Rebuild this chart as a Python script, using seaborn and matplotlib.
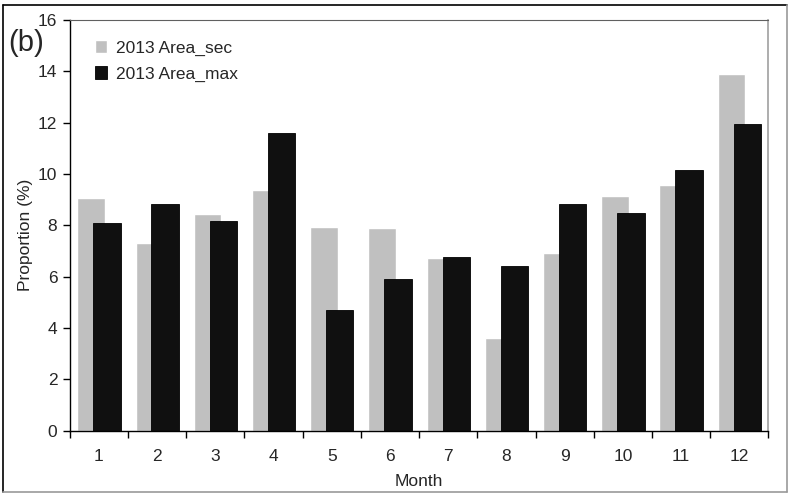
import numpy as np
import seaborn as sns
import matplotlib.pyplot as plt
from matplotlib.lines import Line2D

months = np.arange(1, 13)
area_sec = [9.05, 7.31, 8.46, 9.38, 7.93, 7.88, 6.74, 3.61, 6.94, 9.14, 9.56, 13.9]
area_max = [8.09, 8.83, 8.19, 11.6, 4.72, 5.91, 6.75, 6.40, 8.82, 8.49, 10.14, 11.94]
y_ticks = [0, 2, 4, 6, 8, 10, 12, 14, 16]

sns.set_style('ticks')
plt.rcParams['font.family'] = ['Liberation Sans', 'DejaVu Sans']
fs = 12.5

fig = plt.figure(figsize=(7.89, 4.93), dpi=100)
ax = fig.add_axes([0.0885, 0.1262, 0.8855, 0.8332])

# overlapping bars like the excel original
sns.barplot(x=months - 0.137, y=area_sec, native_scale=True, width=0.47,
            color='#c0c0c0', saturation=1, errorbar=None,
            label='2013 Area_sec', ax=ax)
sns.barplot(x=months + 0.137, y=area_max, native_scale=True, width=0.47,
            color='#101010', saturation=1, errorbar=None, edgecolor='#000000',
            linewidth=0.6, label='2013 Area_max', ax=ax)

ax.set_xlim(0.5, 12.5)
ax.set_ylim(0, 16)
ax.set_yticks(y_ticks)
ax.set_xticks(months)
ax.set_xticklabels([str(m) for m in months])
ax.set_xticks(np.arange(0.5, 13, 1), minor=True)
ax.tick_params(axis='x', which='major', length=0, pad=13, labelsize=fs)
ax.tick_params(axis='x', which='minor', length=5, width=1, color='black', direction='out')
ax.tick_params(axis='y', length=5, width=1, color='black', direction='out', pad=4, labelsize=fs)

ax.set_xlabel('Month', size=fs, labelpad=7)
ax.set_ylabel('Proportion (%)', size=fs)
ax.yaxis.set_label_coords(-0.053, 0.478)

for s in ['left', 'bottom']:
    ax.spines[s].set_color('black')
    ax.spines[s].set_linewidth(1)
ax.spines['top'].set_color('#606060')
ax.spines['top'].set_linewidth(0.8)
ax.spines['right'].set_color('#a0a0a0')
ax.spines['right'].set_linewidth(1.2)

ax.legend(loc='upper left', bbox_to_anchor=(0.120, 0.918), bbox_transform=fig.transFigure,
          frameon=False, fontsize=fs, handlelength=0.7, handleheight=0.7,
          handletextpad=0.5, labelspacing=0.62, borderpad=0, borderaxespad=0)

fig.text(0.010, 1 - 42.5 / 493, '(b)', va='center', ha='left', fontsize=21)

# outer frame of the figure
fig.add_artist(Line2D([0.004, 0.004], [0.003, 0.99], color='black', lw=1.2, transform=fig.transFigure))
fig.add_artist(Line2D([0.004, 0.997], [0.99, 0.99], color='black', lw=1.2, transform=fig.transFigure))
fig.add_artist(Line2D([0.997, 0.997], [0.003, 0.99], color='#999999', lw=1.2, transform=fig.transFigure))
fig.add_artist(Line2D([0.004, 0.997], [0.003, 0.003], color='#999999', lw=1.2, transform=fig.transFigure))

fig.savefig('out.png', dpi=100)
